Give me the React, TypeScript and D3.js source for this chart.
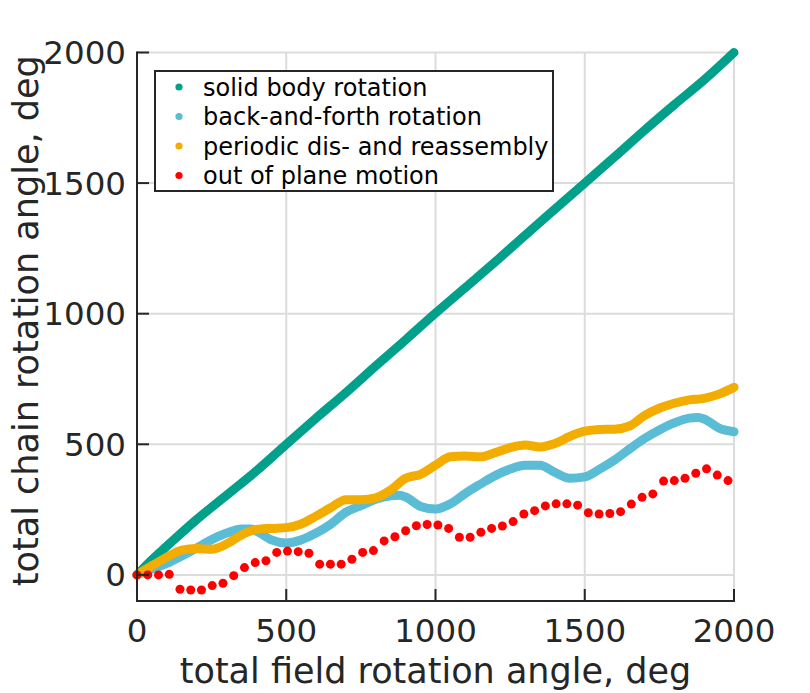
import React from 'react';
import * as d3 from 'd3';

// field angle (x) and chain angle (y)
const solidX = [0, 50, 100, 200, 300, 400, 500, 600, 700, 800, 900, 1000, 1100, 1200, 1300, 1400, 1500, 1600, 1700, 1800, 1900, 2000];
const solidY = [0, 58, 110, 212, 305, 398, 500, 600, 698, 800, 900, 1002, 1100, 1198, 1300, 1400, 1500, 1600, 1702, 1800, 1895, 2000];

const backX = [0, 50, 100, 150, 200, 250, 300, 350, 380, 400, 450, 500, 550, 600, 650, 700, 750, 800, 850, 880, 900, 950, 1000, 1050, 1100, 1150, 1200, 1250, 1300, 1350, 1400, 1450, 1500, 1550, 1600, 1650, 1700, 1750, 1800, 1850, 1880, 1900, 1950, 2000];
const backY = [0, 22, 44, 72, 103, 135, 160, 176, 176, 168, 134, 122, 134, 160, 195, 240, 265, 290, 303, 305, 298, 262, 252, 272, 312, 347, 380, 405, 420, 420, 392, 370, 375, 405, 440, 482, 522, 555, 582, 600, 603, 597, 562, 548];

const periodicX = [0, 50, 100, 150, 200, 250, 300, 350, 400, 450, 500, 550, 600, 650, 700, 750, 800, 850, 900, 950, 1000, 1050, 1100, 1150, 1200, 1250, 1300, 1350, 1400, 1450, 1500, 1550, 1600, 1650, 1700, 1750, 1800, 1850, 1900, 1950, 2000];
const periodicY = [0, 35, 68, 95, 101, 98, 118, 153, 174, 178, 181, 195, 225, 258, 288, 288, 295, 325, 370, 385, 420, 452, 455, 452, 468, 487, 497, 490, 503, 530, 550, 557, 558, 570, 610, 638, 657, 670, 676, 692, 718];

const outX = [0, 36, 72, 108, 144, 180, 216, 252, 288, 324, 360, 396, 432, 468, 504, 540, 576, 612, 648, 684, 720, 756, 792, 828, 864, 900, 936, 972, 1008, 1044, 1080, 1116, 1152, 1188, 1224, 1260, 1296, 1332, 1368, 1404, 1440, 1476, 1512, 1548, 1584, 1620, 1656, 1692, 1728, 1764, 1800, 1836, 1872, 1908, 1944, 1980];
const outY = [0, 0, 0, 2, -55, -58, -58, -41, -32, -3, 28, 47, 54, 86, 91, 89, 83, 41, 41, 41, 60, 86, 93, 130, 146, 169, 188, 193, 191, 178, 144, 144, 163, 178, 187, 204, 233, 246, 264, 272, 272, 267, 238, 233, 235, 242, 271, 297, 310, 359, 361, 370, 389, 406, 382, 361];

const legendLabels = ['solid body rotation', 'back-and-forth rotation', 'periodic dis- and reassembly', 'out of plane motion'];
const colors = ['#00A08A', '#5BBCD6', '#F2AD00', '#FF0000'];
const xTicks = [0, 500, 1000, 1500, 2000];
const yTicks = [0, 500, 1000, 1500, 2000];

const W = 810;
const H = 693;
const FONT = '"DejaVu Sans", sans-serif';
const AX = '#262626';

export default function App() {
  const x = d3.scaleLinear().domain([0, 2000]).range([137, 734]);
  const y = d3.scaleLinear().domain([-100, 2000]).range([601, 52.5]);

  const line = d3.line<[number, number]>()
    .x(d => x(d[0]))
    .y(d => y(d[1]))
    .curve(d3.curveMonotoneX);

  const dense = [
    { xs: solidX, ys: solidY, color: colors[0] },
    { xs: backX, ys: backY, color: colors[1] },
    { xs: periodicX, ys: periodicY, color: colors[2] },
  ];

  return (
    <svg width={W} height={H} style={{ position: 'absolute', left: 0, top: 0, background: '#fff' }} fontFamily={FONT}>
      {/* grid */}
      {xTicks.map(t => (
        <line key={'gx' + t} x1={x(t)} x2={x(t)} y1={y(-100)} y2={y(2000)} stroke="#dcdcdc" strokeWidth={2} />
      ))}
      {yTicks.map(t => (
        <line key={'gy' + t} x1={x(0)} x2={x(2000)} y1={y(t)} y2={y(t)} stroke="#dcdcdc" strokeWidth={2} />
      ))}

      {/* dense marker series drawn as thick strokes */}
      {dense.map((s, i) => (
        <path
          key={'s' + i}
          d={line(s.xs.map((v, j) => [v, s.ys[j]] as [number, number])) || ''}
          fill="none"
          stroke={s.color}
          strokeWidth={9}
          strokeLinecap="round"
          strokeLinejoin="round"
        />
      ))}
      {outX.map((v, j) => (
        <circle key={'o' + j} cx={x(v)} cy={y(outY[j])} r={4.5} fill={colors[3]} />
      ))}

      {/* axes */}
      <line x1={x(0)} x2={x(0)} y1={y(2000) - 1} y2={y(-100) + 1} stroke={AX} strokeWidth={2} />
      <line x1={x(0) - 1} x2={x(2000) + 1} y1={y(-100)} y2={y(-100)} stroke={AX} strokeWidth={2} />
      {xTicks.map(t => (
        <g key={'xt' + t}>
          <line x1={x(t)} x2={x(t)} y1={y(-100)} y2={y(-100) - 12} stroke={AX} strokeWidth={2} />
          <text x={x(t)} y={642} textAnchor="middle" fontSize={32.5} fill={AX}>{t}</text>
        </g>
      ))}
      {yTicks.map(t => (
        <g key={'yt' + t}>
          <line x1={x(0)} x2={x(0) + 12} y1={y(t)} y2={y(t)} stroke={AX} strokeWidth={2} />
          <text x={126} y={y(t) + 11.5} textAnchor="end" fontSize={32.5} fill={AX}>{t}</text>
        </g>
      ))}

      <text x={(x(0) + x(2000)) / 2} y={683} textAnchor="middle" fontSize={35} fill={AX}>
        total field rotation angle, deg
      </text>
      <text
        transform={`translate(38, ${(y(-100) + y(2000)) / 2 - 6}) rotate(-90)`}
        textAnchor="middle"
        fontSize={35}
        fill={AX}
      >
        total chain rotation angle, deg
      </text>

      {/* legend */}
      <rect x={155} y={71} width={398} height={120} fill="#fff" stroke={AX} strokeWidth={2} />
      {legendLabels.map((lab, i) => (
        <g key={'lg' + i} transform={`translate(0, ${87 + i * 29.5})`}>
          <circle cx={179} cy={0} r={3.6} fill={colors[i]} />
          <text x={203} y={8.5} fontSize={24} fill="#000">{lab}</text>
        </g>
      ))}
    </svg>
  );
}
